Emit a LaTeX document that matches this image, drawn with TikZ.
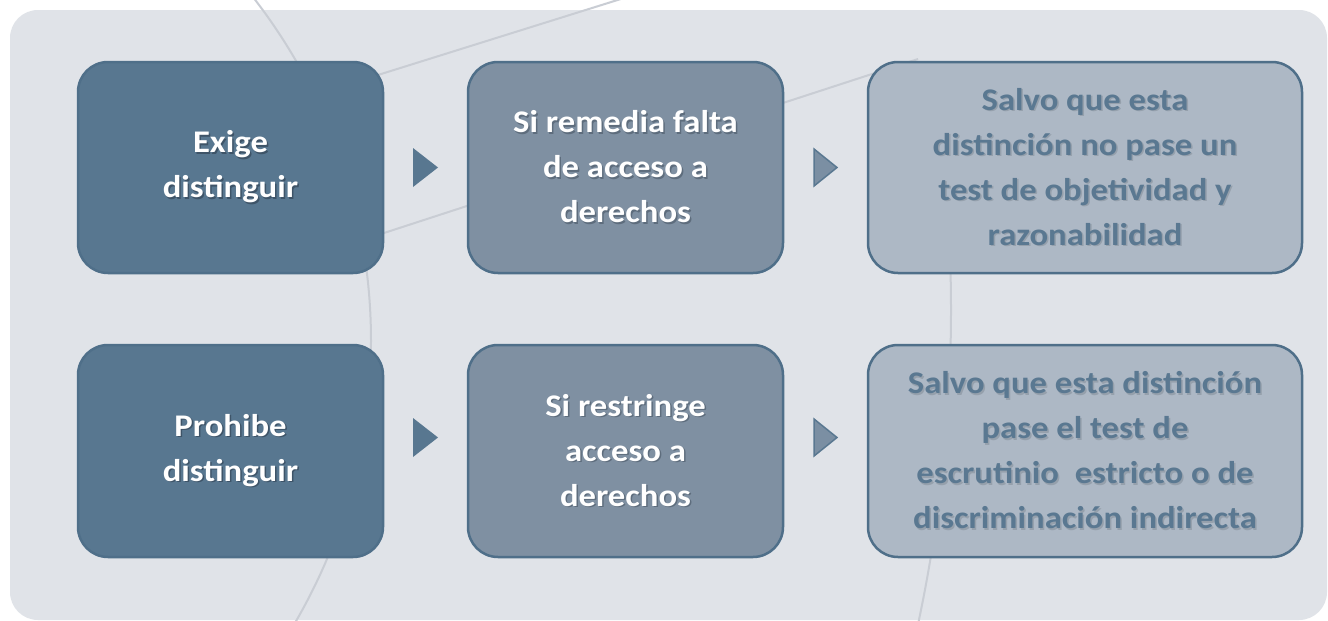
\documentclass[tikz,border=0pt]{standalone}
\usepackage{fontspec}
\setmainfont{Carlito}[FakeStretch=1.1]
\usetikzlibrary{calc}
\definecolor{panel}{HTML}{E0E3E8}
\definecolor{deco}{HTML}{C9CDD4}
\definecolor{edge}{HTML}{4F6F89}
\definecolor{fillA}{HTML}{587790}
\definecolor{fillB}{HTML}{7F90A2}
\definecolor{fillC}{HTML}{ADB8C5}
\definecolor{textC}{HTML}{5A7891}
\definecolor{shA}{HTML}{3E5468}
\definecolor{shB}{HTML}{5E6D7D}
\definecolor{shC}{HTML}{95A0AC}
\definecolor{arrowB}{HTML}{7B8FA3}
\newcommand{\shtxt}[2]{\makebox[0pt][l]{\hspace{1.5pt}\raisebox{-1.5pt}{\textcolor{#1}{#2}}}#2}
\begin{document}
\begin{tikzpicture}[x=1pt,y=-1pt,
  decoline/.style={draw=deco, line width=2pt},
  box/.style={draw=edge, line width=2.5pt, rounded corners=30pt, inner sep=0pt,
    align=center, font=\fontsize{31.5}{45}\selectfont\bfseries},
  boxA/.style={box, fill=fillA, text=white},
  boxB/.style={box, fill=fillB, text=white},
  boxC/.style={box, fill=fillC, text=textC},
  arrA/.style={fill=fillA},
  arrB/.style={fill=arrowB, draw=textC, line width=1.5pt, line join=miter}]
\useasboundingbox (0,0) rectangle (1328,621);
\clip (0,0) rectangle (1328,621);
\fill[white] (0,0) rectangle (1328,621);
\fill[panel, rounded corners=28pt] (10,10) rectangle (1327,620);
% decorative lines
\draw[decoline] (-189,341) circle (560);
\begin{scope}
  \clip (0,150) rectangle (1328,621);
  \draw[decoline] (-549,310) circle (1500);
\end{scope}
\draw[decoline] (640,-7) -- (330,90);
\draw[decoline] (330,250.6) -- (918,59);
% boxes
\node[boxA, minimum width=305pt, minimum height=211pt] (b1) at (230.5,167.5)
  {\shtxt{shA}{Exige}\\\shtxt{shA}{distinguir}};
\node[boxB, minimum width=315pt, minimum height=211pt] (b2) at (625.5,167.5)
  {\shtxt{shB}{Si remedia falta}\\\shtxt{shB}{de acceso a}\\\shtxt{shB}{derechos}};
\node[boxC, minimum width=434pt, minimum height=211pt] (b3) at (1085,167.5)
  {\shtxt{shC}{Salvo que esta}\\\shtxt{shC}{distinción no pase un}\\\shtxt{shC}{test de objetividad y}\\\shtxt{shC}{razonabilidad}};
\node[boxA, minimum width=305pt, minimum height=212pt] (b4) at (230.5,451)
  {\shtxt{shA}{Prohibe}\\\shtxt{shA}{distinguir}};
\node[boxB, minimum width=315pt, minimum height=212pt] (b5) at (625.5,451)
  {\shtxt{shB}{Si restringe}\\\shtxt{shB}{acceso a}\\\shtxt{shB}{derechos}};
\node[boxC, minimum width=434pt, minimum height=212pt] (b6) at (1085,451)
  {\shtxt{shC}{Salvo que esta distinción}\\\shtxt{shC}{pase el test de}\\\shtxt{shC}{escrutinio\ \ estricto o de}\\\shtxt{shC}{discriminación indirecta}};
% arrows
\fill[arrA] ($(b1.east)!0.5!(b2.west)$) ++(-12.5,-19.5) -- ++(25,19.5) -- ++(-25,19.5) -- cycle;
\filldraw[arrB] ($(b2.east)!0.5!(b3.west)$) ++(-11.5,-18.5) -- ++(23,18.5) -- ++(-23,18.5) -- cycle;
\fill[arrA] ($(b4.east)!0.5!(b5.west)+(0,-13.5)$) ++(-12.5,-19.5) -- ++(25,19.5) -- ++(-25,19.5) -- cycle;
\filldraw[arrB] ($(b5.east)!0.5!(b6.west)+(0,-13.5)$) ++(-11.5,-18.5) -- ++(23,18.5) -- ++(-23,18.5) -- cycle;
\end{tikzpicture}
\end{document}
